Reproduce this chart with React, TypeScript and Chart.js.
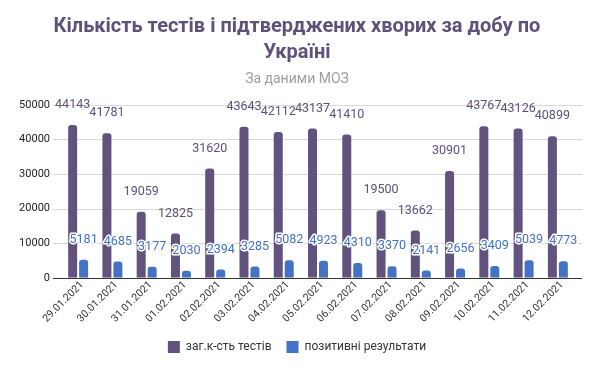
import React, { useEffect, useRef } from "react";
import { Chart, registerables } from "chart.js";

Chart.register(...registerables);

const categories = [
  "29.01.2021", "30.01.2021", "31.01.2021", "01.02.2021", "02.02.2021",
  "03.02.2021", "04.02.2021", "05.02.2021", "06.02.2021", "07.02.2021",
  "08.02.2021", "09.02.2021", "10.02.2021", "11.02.2021", "12.02.2021",
];
const totalTests = [44143, 41781, 19059, 12825, 31620, 43643, 42112, 43137, 41410, 19500, 13662, 30901, 43767, 43126, 40899];
const positives = [5181, 4685, 3177, 2030, 2394, 3285, 5082, 4923, 4310, 3370, 2141, 2656, 3409, 5039, 4773];
const seriesNames = ["заг.к-сть тестів", "позитивні результати"];
const yTicks = [0, 10000, 20000, 30000, 40000, 50000];
const titleLines = ["Кількість тестів і підтверджених хворих за добу по", "Україні"];
const subtitleText = "За даними МОЗ";

const PURPLE = "#62527e";
const BLUE = "#4472c4";
const FONT = "Roboto, 'Noto Sans', sans-serif";

const gridPlugin = {
  id: "customGrid",
  beforeDatasetsDraw(chart: any) {
    const { ctx, chartArea, scales } = chart;
    const y = scales.y;
    ctx.save();
    yTicks.forEach((v) => {
      const py = Math.round(y.getPixelForValue(v)) + 0.5;
      ctx.beginPath();
      ctx.strokeStyle = v === 0 ? "#333333" : "#d9d9d9";
      ctx.lineWidth = 1;
      ctx.moveTo(chartArea.left - 8, py);
      ctx.lineTo(chartArea.right + 7, py);
      ctx.stroke();
    });
    ctx.restore();
  },
};

const labelPlugin = {
  id: "valueLabels",
  afterDatasetsDraw(chart: any) {
    const { ctx } = chart;
    ctx.save();
    ctx.font = `12.5px ${FONT}`;
    ctx.textAlign = "center";
    ctx.textBaseline = "middle";
    chart.data.datasets.forEach((ds: any, di: number) => {
      const meta = chart.getDatasetMeta(di);
      meta.data.forEach((bar: any, i: number) => {
        const text = String(ds.data[i]);
        const x = bar.x;
        const y = bar.y - 20;
        if (di === 1) {
          ctx.lineWidth = 3;
          ctx.strokeStyle = "#ffffff";
          ctx.lineJoin = "round";
          ctx.strokeText(text, x, y);
          ctx.fillStyle = BLUE;
        } else {
          ctx.fillStyle = "#5f5078";
        }
        ctx.fillText(text, x, y);
      });
    });
    ctx.restore();
  },
};

export default function App() {
  const canvasRef = useRef<HTMLCanvasElement | null>(null);

  useEffect(() => {
    document.body.style.margin = "0";
    const canvas = canvasRef.current;
    if (!canvas) return;
    const chart = new Chart(canvas, {
      type: "bar",
      data: {
        labels: categories,
        datasets: [
          {
            label: seriesNames[0],
            data: totalTests,
            backgroundColor: PURPLE,
            borderRadius: { topLeft: 3, topRight: 3, bottomLeft: 0, bottomRight: 0 },
            borderSkipped: "bottom",
            categoryPercentage: 0.64,
            barPercentage: 0.82,
          },
          {
            label: seriesNames[1],
            data: positives,
            backgroundColor: BLUE,
            borderRadius: { topLeft: 3, topRight: 3, bottomLeft: 0, bottomRight: 0 },
            borderSkipped: "bottom",
            categoryPercentage: 0.64,
            barPercentage: 0.82,
          },
        ],
      },
      options: {
        animation: false,
        responsive: false,
        maintainAspectRatio: false,
        layout: { padding: { left: 19, right: 25, top: 0, bottom: 8 } },
        scales: {
          x: {
            grid: { display: false, drawTicks: false },
            border: { display: false },
            afterFit(scale: any) {
              scale.paddingLeft = 0;
              scale.paddingRight = 0;
            },
            ticks: {
              color: "#333333",
              font: { family: FONT, size: 10.5 },
              maxRotation: 45,
              minRotation: 45,
              padding: 1,
              labelOffset: 4,
            },
          },
          y: {
            min: 0,
            max: 50000,
            grid: { display: false, drawTicks: false },
            border: { display: false },
            afterFit(scale: any) {
              scale.width = 42;
            },
            afterBuildTicks(scale: any) {
              scale.ticks = yTicks.map((v) => ({ value: v }));
            },
            ticks: {
              color: "#222222",
              font: { family: FONT, size: 11 },
              padding: 11,
              callback: (v: any) => String(v),
            },
          },
        },
        plugins: {
          title: {
            display: true,
            text: titleLines,
            color: "#5f5179",
            font: { family: FONT, size: 20, weight: "bold", lineHeight: 1.3 },
            padding: { top: 14, bottom: 4 },
          },
          subtitle: {
            display: true,
            text: subtitleText,
            color: "#9e9e9e",
            font: { family: FONT, size: 14 },
            padding: { top: 1, bottom: 17 },
          },
          legend: {
            position: "bottom",
            labels: {
              color: "#333333",
              font: { family: FONT, size: 12 },
              boxWidth: 12,
              boxHeight: 12,
              padding: 15,
            },
          },
          tooltip: { enabled: false },
        },
      },
      plugins: [gridPlugin, labelPlugin],
    } as any);
    return () => chart.destroy();
  }, []);

  return (
    <div style={{ width: 600, height: 371 }}>
      <canvas ref={canvasRef} width={600} height={371} style={{ display: "block" }} />
    </div>
  );
}
